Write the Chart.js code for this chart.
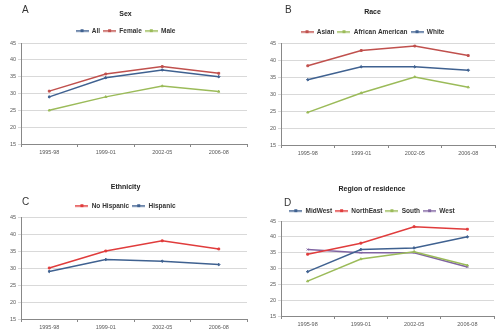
<!DOCTYPE html>
<html>
<head>
<meta charset="utf-8">
<script src="https://cdn.jsdelivr.net/npm/chart.js@4/dist/chart.umd.min.js"></script>
<style>
  body { margin: 0; background: #fff; width: 500px; height: 336px; position: relative; overflow: hidden; }
  .panel { position: absolute; }
  .letter { position: absolute; font: 10px "Liberation Sans", Arial, sans-serif; color: #333; }
</style>
</head>
<body>
<div class="panel" style="left:0;top:0"><canvas id="chartA" width="252" height="168"></canvas></div>
<div class="panel" style="left:250px;top:0"><canvas id="chartB" width="250" height="168"></canvas></div>
<div class="panel" style="left:0;top:168px"><canvas id="chartC" width="252" height="168"></canvas></div>
<div class="panel" style="left:250px;top:168px"><canvas id="chartD" width="250" height="168"></canvas></div>
<div class="letter" style="left:22px;top:4px">A</div>
<div class="letter" style="left:285px;top:4px">B</div>
<div class="letter" style="left:22px;top:196px">C</div>
<div class="letter" style="left:284px;top:197px">D</div>
<script>
/* ===== data ===== */
const periods = ['1995-98', '1999-01', '2002-05', '2006-08'];
const yMin = 15, yMax = 45, yStep = 5;

const sexAll = [29, 34.7, 37, 35];
const sexFemale = [30.7, 35.8, 38, 36];
const sexMale = [25, 29, 32.2, 30.6];

const raceAsian = [38.3, 42.8, 44.1, 41.3];
const raceAfrican = [24.6, 30.3, 35, 32];
const raceWhite = [34.2, 38, 38, 37];

const ethNoHispanic = [30, 35, 38, 35.6];
const ethHispanic = [29, 32.5, 32, 31];

const regMidWest = [29, 36, 36.5, 40];
const regNorthEast = [34.5, 38, 43.2, 42.4];
const regSouth = [26, 33, 35.3, 31];
const regWest = [36, 35, 35, 30.5];

/* ===== styles ===== */
const BLUE = '#3f6190', RED = '#c0504d', RED2 = '#e03c3c', GREEN = '#9bbb59', PURPLE = '#8064a2';
const tickFont = { family: 'Liberation Sans Narrow, Liberation Sans, sans-serif', size: 5.5 };

// little "line + marker" swatch for the legend, like Excel draws it
function legendSwatch(color) {
  const c = document.createElement('canvas');
  c.width = 13; c.height = 5;
  const g = c.getContext('2d');
  g.fillStyle = color;
  g.fillRect(0, 2, 13, 1.5);
  g.fillRect(5, 1, 3, 3);
  return c;
}

function series(label, data, color, marker) {
  return {
    label, data,
    borderColor: color, backgroundColor: color,
    borderWidth: 1.5,
    pointRadius: 1.3, pointStyle: marker, pointBorderWidth: 1,
    tension: 0
  };
}

function makeChart(id, title, datasets, lay) {
  const W = lay.w, H = 168;
  const tPadTop = lay.titleY - 4.2;
  const legendTop = lay.legendY - 6.5;
  const tPadBot = legendTop - (lay.titleY + 4.2);
  new Chart(document.getElementById(id), {
    type: 'line',
    data: { labels: periods, datasets },
    options: {
      responsive: false,
      animation: false,
      devicePixelRatio: 1,
      layout: { padding: { left: 0, right: W - lay.right, top: 0, bottom: 0 } },
      plugins: {
        title: {
          display: true, text: title, color: '#222',
          font: { family: 'Liberation Sans', size: 7, weight: 'bold' },
          padding: { top: tPadTop, bottom: tPadBot }
        },
        legend: {
          position: 'top',
          maxHeight: lay.top - legendTop,
          labels: {
            usePointStyle: true, pointStyleWidth: 13,
            boxHeight: 7, padding: 3, color: '#333',
            font: { family: 'Liberation Sans', size: 6.5, weight: 'bold' },
            generateLabels: chart => chart.data.datasets.map((ds, i) => ({
              text: ds.label,
              fontColor: '#333',
              pointStyle: legendSwatch(ds.borderColor),
              fillStyle: ds.borderColor,
              strokeStyle: ds.borderColor,
              lineWidth: 0,
              hidden: false,
              datasetIndex: i
            }))
          }
        },
        tooltip: { enabled: false }
      },
      scales: {
        x: {
          offset: true,
          grid: { display: true, drawOnChartArea: false, offset: true, tickLength: 3, color: '#888' },
          border: { color: '#888' },
          ticks: { color: '#595959', font: tickFont, padding: 2, maxRotation: 0 },
          afterFit: s => { s.height = H - lay.bottom; }
        },
        y: {
          min: yMin, max: yMax,
          grid: { color: '#d9d9d9', tickLength: 3 },
          border: { color: '#888' },
          ticks: { stepSize: yStep, color: '#595959', font: tickFont, padding: 2 },
          afterFit: s => { s.width = lay.left; }
        }
      }
    }
  });
}

makeChart('chartA', 'Sex', [
  series('All', sexAll, BLUE, 'rectRot'),
  series('Female', sexFemale, RED, 'rect'),
  series('Male', sexMale, GREEN, 'triangle')
], { w: 252, left: 21, right: 251, top: 43, bottom: 144, titleY: 14, legendY: 31 });

makeChart('chartB', 'Race', [
  series('Asian', raceAsian, RED, 'rect'),
  series('African American', raceAfrican, GREEN, 'triangle'),
  series('White', raceWhite, BLUE, 'rectRot')
], { w: 250, left: 31, right: 245, top: 43, bottom: 145, titleY: 12, legendY: 32 });

makeChart('chartC', 'Ethnicity', [
  series('No Hispanic', ethNoHispanic, RED2, 'rect'),
  series('Hispanic', ethHispanic, BLUE, 'rectRot')
], { w: 252, left: 21, right: 251, top: 49, bottom: 151, titleY: 19, legendY: 38 });

makeChart('chartD', 'Region of residence', [
  series('MidWest', regMidWest, BLUE, 'rectRot'),
  series('NorthEast', regNorthEast, RED2, 'rect'),
  series('South', regSouth, GREEN, 'triangle'),
  series('West', regWest, PURPLE, 'crossRot')
], { w: 250, left: 31, right: 244, top: 53, bottom: 148, titleY: 21, legendY: 43 });
</script>
</body>
</html>
